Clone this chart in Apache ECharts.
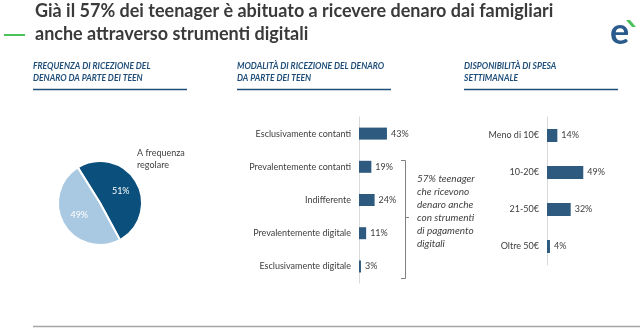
<!DOCTYPE html>
<html>
<head>
<meta charset="utf-8">
<script src="https://cdn.jsdelivr.net/npm/echarts@6/dist/echarts.min.js"></script>
<style>
html,body{margin:0;padding:0;background:#fff;}
#c{width:644px;height:328px;}
</style>
</head>
<body>
<div id="c"></div>
<script>
const titleLines = ['Già il 57% dei teenager è abituato a ricevere denaro dai famigliari', 'anche attraverso strumenti digitali'];
const headers = [
  ['FREQUENZA DI RICEZIONE DEL', 'DENARO DA PARTE DEI TEEN'],
  ['MODALITÀ DI RICEZIONE DEL DENARO', 'DA PARTE DEI TEEN'],
  ['DISPONIBILITÀ DI SPESA', 'SETTIMANALE']
];
const pieNames = ['A frequenza\nregolare', 'Al bisogno'];
const pieValues = [51, 49];
const modeCats = ['Esclusivamente contanti', 'Prevalentemente contanti', 'Indifferente', 'Prevalentemente digitale', 'Esclusivamente digitale'];
const modeValues = [43, 19, 24, 11, 3];
const spendCats = ['Meno di 10€', '10-20€', '21-50€', 'Oltre 50€'];
const spendValues = [14, 49, 32, 4];
const noteText = '57% teenager\nche ricevono\ndenaro anche\ncon strumenti\ndi pagamento\ndigitali';

const FONT = 'Lato, "Open Sans", sans-serif';
const HEAD = '#1f4e79';
const TXT = '#404040';
const BAR = '#2d5a7e';

const chart = echarts.init(document.getElementById('c'), null, {renderer: 'canvas'});

const headerX = [33, 237, 464];
const headerW = [154, 154, 154];
const graphics = [];
titleLines.forEach((t, i) => {
  graphics.push({type: 'text', left: 35, top: 2 + i * 23, style: {text: t, font: 'bold 18px ' + FONT, fill: '#3a3a3a'}});
});
graphics.push({type: 'rect', shape: {x: 4, y: 34, width: 21, height: 2}, style: {fill: '#4cc25a'}});
graphics.push({type: 'text', left: 610, top: 14, style: {text: 'e', font: 'bold 36px ' + FONT, fill: '#2b5b8c'}});
graphics.push({type: 'polygon', shape: {points: [[626, 20], [630, 20], [636, 27], [632, 27]]}, style: {fill: '#4cc25a'}});
headers.forEach((h, i) => {
  h.forEach((line, j) => {
    graphics.push({type: 'text', left: headerX[i], top: 62 + j * 12, style: {text: line, font: 'italic bold 8.5px ' + FONT, fill: HEAD}});
  });
  graphics.push({type: 'line', shape: {x1: headerX[i], y1: 89.5, x2: headerX[i] + headerW[i], y2: 89.5}, style: {stroke: HEAD, lineWidth: 1.5}});
});
graphics.push({type: 'polyline', shape: {points: [[401, 160.5], [405.5, 160.5], [405.5, 278.5], [401, 278.5]]}, style: {stroke: '#808080', lineWidth: 1, fill: null}});
graphics.push({type: 'line', shape: {x1: 405.5, y1: 217.5, x2: 409, y2: 217.5}, style: {stroke: '#808080', lineWidth: 1}});
graphics.push({type: 'text', left: 417, top: 172, style: {text: noteText, font: 'italic 10px ' + FONT, fill: TXT, lineHeight: 13}});
graphics.push({type: 'line', shape: {x1: 33, y1: 326.5, x2: 640, y2: 326.5}, style: {stroke: '#a6a6a6', lineWidth: 1.5}});

const pieLabelPos = [{x: 137, y: 159}, {x: 27, y: 242}];

chart.setOption({
  animation: false,
  textStyle: {fontFamily: FONT},
  graphic: graphics,
  grid: [
    {left: 359, top: 117, width: 65, height: 166, containLabel: false},
    {left: 547, top: 117, width: 74, height: 148, containLabel: false}
  ],
  xAxis: [
    {gridIndex: 0, type: 'value', min: 0, max: 100, show: false},
    {gridIndex: 1, type: 'value', min: 0, max: 100, show: false}
  ],
  yAxis: [
    {gridIndex: 0, type: 'category', data: modeCats, inverse: true,
     axisLine: {show: true, lineStyle: {color: '#d9d9d9'}}, axisTick: {show: false},
     axisLabel: {color: TXT, fontSize: 9, margin: 8, fontFamily: FONT}},
    {gridIndex: 1, type: 'category', data: spendCats, inverse: true,
     axisLine: {show: true, lineStyle: {color: '#d9d9d9'}}, axisTick: {show: false},
     axisLabel: {color: TXT, fontSize: 9, margin: 8, fontFamily: FONT}}
  ],
  series: [
    {
      type: 'pie', center: [100, 203], radius: [0, 42], startAngle: 122, clockwise: true,
      data: pieNames.map((n, i) => ({name: n, value: pieValues[i]})),
      color: ['#0b4f7c', '#a9c8e1'],
      itemStyle: {borderColor: '#fff', borderWidth: 2},
      label: {show: true, position: 'inside', formatter: '{c}%', color: '#fff', fontSize: 9, fontFamily: FONT},
      labelLine: {show: false},
      silent: true
    },
    {
      type: 'pie', center: [100, 203], radius: [0, 42], startAngle: 122, clockwise: true,
      data: pieNames.map((n, i) => ({name: n, value: pieValues[i]})),
      itemStyle: {color: 'transparent'},
      label: {show: true, position: 'outside', formatter: '{b}', color: TXT, fontSize: 9, fontFamily: FONT, lineHeight: 12, align: 'left'},
      labelLine: {show: false},
      labelLayout: function (p) {
        const pos = pieLabelPos[p.dataIndex];
        return {x: pos.x, y: pos.y, align: 'left', verticalAlign: 'middle'};
      },
      silent: true
    },
    {
      type: 'bar', xAxisIndex: 0, yAxisIndex: 0, data: modeValues, barWidth: 12,
      itemStyle: {color: BAR},
      label: {show: true, position: 'right', distance: 4, formatter: '{c}%', color: TXT, fontSize: 9, fontFamily: FONT}
    },
    {
      type: 'bar', xAxisIndex: 1, yAxisIndex: 1, data: spendValues, barWidth: 13,
      itemStyle: {color: BAR},
      label: {show: true, position: 'right', distance: 4, formatter: '{c}%', color: TXT, fontSize: 9, fontFamily: FONT}
    }
  ]
});
</script>
</body>
</html>
